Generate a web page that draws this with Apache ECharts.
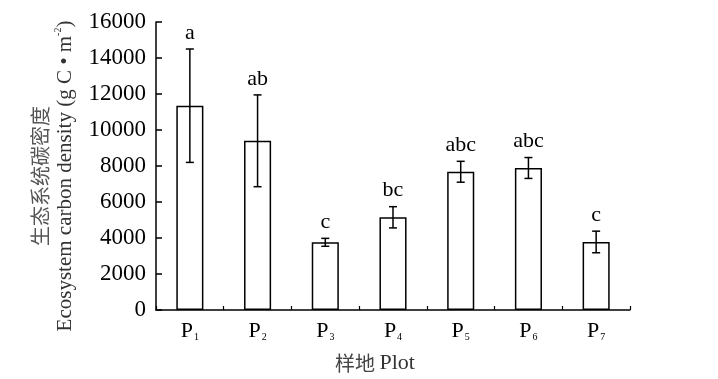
<!DOCTYPE html>
<html><head><meta charset="utf-8">
<script src="https://cdn.jsdelivr.net/npm/echarts@6/dist/echarts.min.js"></script>
<style>html,body{margin:0;padding:0;background:#fff}#c{width:718px;height:379px}</style>
</head><body><div id="c"></div>
<script>
const categories = ['1','2','3','4','5','6','7'];
const means = [11350, 9400, 3760, 5150, 7680, 7890, 3780];
const errors = [3150, 2550, 220, 590, 580, 580, 600];
const letters = ['a','ab','c','bc','abc','abc','c'];
const yTicks = {min: 0, max: 16000, interval: 2000};
const halfSlots = categories.flatMap(c => [c + 'a', c + 'b']);

const serif = '"Liberation Serif","DejaVu Serif",serif';
const chart = echarts.init(document.getElementById('c'));
const errData = means.map((m, i) => [i, m, errors[i]]);
chart.setOption({
  animation: false,
  backgroundColor: '#fff',
  grid: {left: 156, right: 88, top: 22, bottom: 66},
  xAxis: [{
    type: 'category', data: categories, boundaryGap: true,
    axisLine: {lineStyle: {color: '#000', width: 1.5}},
    axisTick: {show: false},
    axisLabel: {
      margin: 10,
      formatter: v => '{p|P}{s|' + v + '}',
      rich: {
        p: {fontFamily: serif, fontSize: 22, color: '#000'},
        s: {fontFamily: serif, fontSize: 10, color: '#000', verticalAlign: 'bottom', padding: [10, 0, 0, 1]}
      }
    },
    name: '{cn|样地 }{en|Plot}', nameLocation: 'middle', nameGap: 42,
    nameTextStyle: {
      padding: [0, 36, 0, 0],
      rich: {
        cn: {fontFamily: '"Noto Sans CJK SC"', fontSize: 20, color: '#444'},
        en: {fontFamily: serif, fontSize: 22, color: '#333'}
      }
    }
  }, {
    type: 'category', data: halfSlots, boundaryGap: true, show: true,
    position: 'bottom', axisLine: {show: false}, axisLabel: {show: false},
    axisTick: {show: true, inside: true, length: 4, interval: 0, lineStyle: {color: '#000', width: 1.2}}
  }],
  yAxis: {
    type: 'value', min: yTicks.min, max: yTicks.max, interval: yTicks.interval,
    splitLine: {show: false},
    axisLine: {show: true, lineStyle: {color: '#000', width: 1.5}},
    axisTick: {show: true, inside: true, length: 6, lineStyle: {color: '#000', width: 1.5}},
    axisLabel: {fontFamily: serif, fontSize: 23, color: '#000', margin: 10, formatter: v => String(v)},
    name: '{cn|生态系统碳密度}\n{en|Ecosystem carbon density (g C • m}{sup|-2}{en|)}',
    nameLocation: 'middle', nameGap: 79,
    nameTextStyle: {
      padding: [0, 20, 0, 0],
      rich: {
        cn: {fontFamily: '"Noto Sans CJK SC"', fontSize: 20, color: '#555', lineHeight: 26},
        en: {fontFamily: serif, fontSize: 21, color: '#333', lineHeight: 24},
        sup: {fontFamily: serif, fontSize: 10, color: '#333', verticalAlign: 'top', lineHeight: 24}
      }
    }
  },
  series: [{
    type: 'bar', data: means, barWidth: '40%',
    itemStyle: {color: '#fff', borderColor: '#000', borderWidth: 1.5}
  }, {
    type: 'line', xAxisIndex: 1, data: halfSlots.map(() => null), silent: true, showSymbol: false
  }, {
    type: 'custom', data: errData, z: 10,
    renderItem: function (params, api) {
      const i = api.value(0), m = api.value(1), e = api.value(2);
      const top = api.coord([i, m + e]);
      const bot = api.coord([i, m - e]);
      const x = top[0], hw = 4;
      const st = {stroke: '#000', lineWidth: 1.5};
      return {type: 'group', children: [
        {type: 'line', shape: {x1: x, y1: top[1], x2: x, y2: bot[1]}, style: st},
        {type: 'line', shape: {x1: x - hw, y1: top[1], x2: x + hw, y2: top[1]}, style: st},
        {type: 'line', shape: {x1: x - hw, y1: bot[1], x2: x + hw, y2: bot[1]}, style: st},
        {type: 'text', x: x, y: top[1] - 5, style: {text: letters[params.dataIndex], fontFamily: serif, fontSize: 22, fill: '#000', align: 'center', verticalAlign: 'bottom'}}
      ]};
    }
  }]
});
</script></body></html>
